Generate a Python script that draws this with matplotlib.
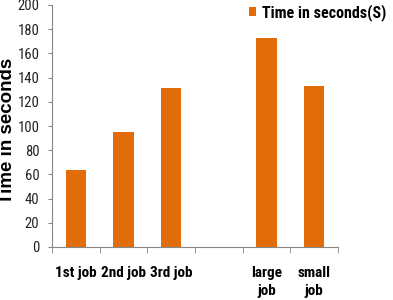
import numpy as np
import matplotlib.pyplot as plt
from matplotlib import font_manager

categories = ["1st job", "2nd job", "3rd job", "", "large\njob", "small\njob"]
times = [64, 95, 131, np.nan, 173, 133]
legend_label = "Time in seconds(S)"

names = {f.name for f in font_manager.fontManager.ttflist}
narrow = next(n for n in ["Liberation Sans Narrow", "Arial Narrow", "Roboto Condensed",
                          "Archivo Narrow", "Liberation Sans"] if n in names)

fig = plt.figure(figsize=(3.93, 3.0), dpi=100)
ax = fig.add_axes([52 / 393, 53 / 300, (338 - 52) / 393, 242 / 300])

x = np.arange(len(categories))
ax.bar(x, times, width=0.42, color="#E36C0A", label=legend_label)

ax.set_xlim(-0.5, len(categories) - 0.5)
ax.set_ylim(0, 200)
ax.set_yticks(range(0, 201, 20))
ax.set_xticks(x)
ax.set_xticklabels(categories, fontfamily=narrow, fontweight="bold", fontsize=11,
                   linespacing=1.35)
ax.set_xticks(np.arange(-0.5, len(categories), 1), minor=True)
ax.tick_params(axis="x", which="major", length=0, pad=14)
ax.tick_params(axis="x", which="minor", length=4, color="#888888", direction="out")
ax.tick_params(axis="y", length=3, color="#888888", pad=6)
for lab in ax.get_yticklabels():
    lab.set_fontfamily(narrow)
    lab.set_fontsize(10.5)
    lab.set_color("#222222")

for s in ["top", "right"]:
    ax.spines[s].set_visible(False)
for s in ["left", "bottom"]:
    ax.spines[s].set_color("#888888")
    ax.spines[s].set_linewidth(0.8)

ax.set_ylabel("Time in seconds", fontfamily="Liberation Sans", fontweight="bold", fontsize=13.5)
ax.yaxis.set_label_coords(-36 / 286, (247 - 131) / 242)

fig.legend(loc="upper left", bbox_to_anchor=(235 / 393, 1.035), frameon=False,
           handlelength=0.4, handleheight=0.5, handletextpad=0.4,
           prop={"family": narrow, "weight": "bold", "size": 11.5})

fig.savefig("out.png", dpi=100)
